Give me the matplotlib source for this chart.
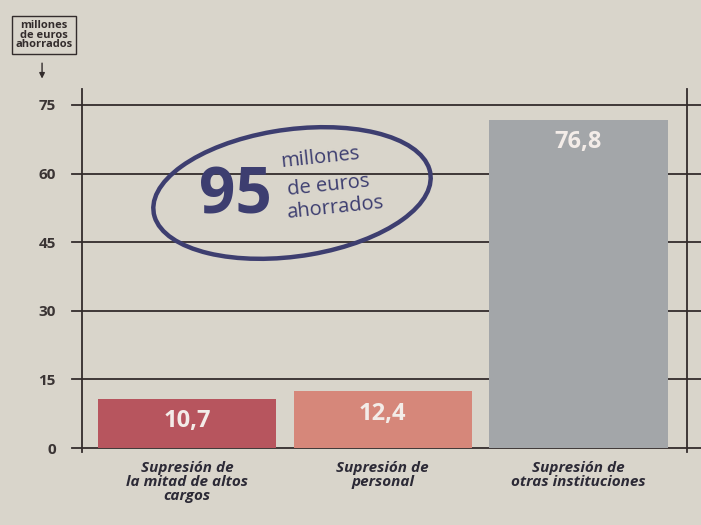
import matplotlib
matplotlib.use('Agg')
from matplotlib import pyplot as plt
from matplotlib.patches import Ellipse, FancyArrowPatch
import numpy as np

categories = ['Supresión de\nla mitad de altos\ncargos',
              'Supresión de\npersonal',
              'Supresión de\notras instituciones']
values = [10.7, 12.4, 71.8]
value_labels = ['10,7', '12,4', '76,8']
bar_colors = ['#b7555e', '#d6877a', '#a3a6a9']
yticks = [0, 15, 30, 45, 60, 75]

paper = '#d9d5cb'
ink = '#332c2c'
navy = '#3d3e70'

plt.rcParams['font.family'] = ['Open Sans', 'DejaVu Sans']

fig = plt.figure(figsize=(7.01, 5.25), dpi=100)
fig.patch.set_facecolor(paper)
ax = fig.add_axes([0.117, 0.1396, 0.863, 0.691])
ax.set_facecolor(paper)

x = np.arange(len(values))
ax.set_xlim(-0.536, 2.554)
ax.set_ylim(-0.8, 78.5)

# horizontal rules, running a little past both verticals
for t in yticks:
    ax.axhline(t, xmin=-0.017, xmax=1.03, color=ink, lw=1.3, zorder=1,
               clip_on=False)

ax.bar(x, values, width=0.91, color=bar_colors, zorder=2)

for xi, v, lab in zip(x, values, value_labels):
    ax.annotate(lab, (xi, v), xytext=(0, -16), textcoords='offset points',
                ha='center', va='center', fontsize=17, fontweight='bold',
                color='#f3ece8', zorder=3)

for s in ['top', 'bottom']:
    ax.spines[s].set_visible(False)
for s in ['left', 'right']:
    ax.spines[s].set_color(ink)
    ax.spines[s].set_linewidth(1.3)
    ax.spines[s].set_zorder(4)

ax.set_yticks(yticks)
ax.set_yticklabels([str(t) for t in yticks], fontsize=11,
                   fontweight='bold', color='#3a3434')
ax.tick_params(axis='y', length=0, pad=19)
ax.set_xticks(x)
ax.set_xticklabels(categories, fontsize=11, fontweight='bold',
                   fontstyle='italic', color='#2c2a36', linespacing=1.0)
ax.tick_params(axis='x', length=0, pad=7)

# unit box with arrow, top left
fig.text(0.0628, 0.933, 'millones\nde euros\nahorrados', ha='center', va='center',
         fontsize=8, fontweight='bold', color=ink, linespacing=0.85,
         bbox=dict(boxstyle='square,pad=0.35', fc=paper, ec=ink, lw=1))
fig.add_artist(FancyArrowPatch((0.06, 0.885), (0.06, 0.845),
                               transform=fig.transFigure, arrowstyle='-|>',
                               mutation_scale=8, color=ink, lw=1))

# hand-drawn style ellipse with the total
ell = Ellipse((292 / 701, 1 - 193 / 525), 282 / 701, 126 / 525, angle=13,
              transform=fig.transFigure, fill=False, ec=navy, lw=3.2)
fig.add_artist(ell)
fig.text(235 / 701, 1 - 197 / 525, '95', ha='center', va='center',
         fontsize=46, fontweight='bold', color=navy)
fig.text(280 / 701, 1 - 158 / 525, 'millones', ha='left', va='center',
         fontsize=14.5, color=navy, rotation=6)
fig.text(286 / 701, 1 - 186 / 525, 'de euros', ha='left', va='center',
         fontsize=14.5, color=navy, rotation=6)
fig.text(286 / 701, 1 - 208 / 525, 'ahorrados', ha='left', va='center',
         fontsize=14.5, color=navy, rotation=6)

fig.savefig('out.png', dpi=100, facecolor=paper)
